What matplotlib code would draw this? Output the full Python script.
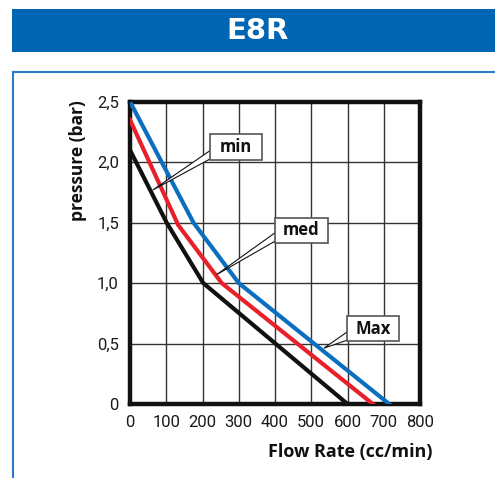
import matplotlib
matplotlib.use("Agg")
import matplotlib.pyplot as plt
from matplotlib.patches import Rectangle, Polygon
from matplotlib.lines import Line2D

# ---- data ----
max_x = [0, 175, 300, 715]
max_y = [2.5, 1.5, 1.0, 0.0]
med_x = [0, 133, 253, 670]
med_y = [2.35, 1.48, 1.0, 0.0]
min_x = [0, 101, 202, 600]
min_y = [2.1, 1.5, 1.0, 0.0]
x_ticks = [0, 100, 200, 300, 400, 500, 600, 700, 800]
x_tick_labels = ["0", "100", "200", "300", "400", "500", "600", "700", "800"]
y_ticks = [0, 0.5, 1.0, 1.5, 2.0, 2.5]
y_tick_labels = ["0", "0,5", "1,0", "1,5", "2,0", "2,5"]
title = "E8R"
series_labels = ["min", "med", "Max"]

BLUE = "#0a6fc0"
RED = "#e8202a"
HEAD = "#0066b3"
TICKFONT = ["Roboto", "DejaVu Sans"]
BOLDFONT = ["Open Sans", "DejaVu Sans"]

W, H = 495, 478
fig = plt.figure(figsize=(W / 100, H / 100), dpi=100)
fig.patch.set_facecolor("white")

# header
fig.patches.append(Rectangle((12 / W, 1 - 52 / H), 1 - 12 / W, 43 / H,
                             transform=fig.transFigure, facecolor=HEAD,
                             edgecolor="none"))
fig.text(258 / W, 1 - 31 / H, title, color="white", fontsize=21,
         fontweight="bold", ha="center", va="center", family=["DejaVu Sans"])
# frame
fig.lines.append(Line2D([13 / W, 1], [1 - 72 / H, 1 - 72 / H],
                        transform=fig.transFigure, color="#2a7bc8", lw=1.5))
fig.lines.append(Line2D([13 / W, 13 / W], [1 - 72 / H, 0],
                        transform=fig.transFigure, color="#2a7bc8", lw=1.5))

ax = fig.add_axes([130 / W, 1 - 404 / H, 290 / W, 302.3 / H])
ax.set_xlim(0, 800)
ax.set_ylim(0, 2.5)
ax.set_xticks(x_ticks)
ax.set_xticklabels(x_tick_labels)
ax.set_yticks(y_ticks)
ax.set_yticklabels(y_tick_labels)
ax.tick_params(length=0, labelsize=12, pad=8, colors="#1a1a1a")
for lab in ax.get_xticklabels() + ax.get_yticklabels():
    lab.set_family(TICKFONT)
ax.grid(True, color="#333333", lw=1.0)
ax.set_axisbelow(True)
for s in ax.spines.values():
    s.set_linewidth(3.2)
    s.set_color("#111111")

ax.plot(min_x, min_y, color="#111111", lw=3, solid_joinstyle="round", zorder=3)
ax.plot(med_x, med_y, color=RED, lw=3, solid_joinstyle="round", zorder=3)
ax.plot(max_x, max_y, color=BLUE, lw=3, solid_joinstyle="round", zorder=3)

# callouts: (box x0, x1, y0, y1), tip, base y's
callouts = [
    (series_labels[0], (221, 363, 2.018, 2.233), (63, 1.77), (2.10, 2.03)),
    (series_labels[1], (400, 546, 1.332, 1.539), (239, 1.07), (1.42, 1.35)),
    (series_labels[2], (599, 741, 0.517, 0.731), (535, 0.462), (0.60, 0.53)),
]
for text, (x0, x1, y0, y1), (tx, ty), (b0, b1) in callouts:
    ax.add_patch(Polygon([(tx, ty), (x0 + 2, b0), (x0 + 2, b1)], closed=True,
                         facecolor="white", edgecolor="#111111", lw=0.8,
                         zorder=4))
    ax.add_patch(Rectangle((x0, y0), x1 - x0, y1 - y0, facecolor="white",
                           edgecolor="#555555", lw=1.2, zorder=5))
    ax.text((x0 + x1) / 2, (y0 + y1) / 2, text, ha="center", va="center",
            fontsize=12, fontweight="bold", family=BOLDFONT, color="#111111",
            zorder=6)

fig.text(78 / W, 1 - 161 / H, "pressure (bar)", rotation=90, ha="center",
         va="center", fontsize=12.5, fontweight="bold", family=BOLDFONT,
         color="#111111")
fig.text(432 / W, 1 - 452 / H, "Flow Rate (cc/min)", ha="right",
         va="center", fontsize=13, fontweight="bold", family=BOLDFONT,
         color="#111111")

fig.savefig("out.png", dpi=100)
